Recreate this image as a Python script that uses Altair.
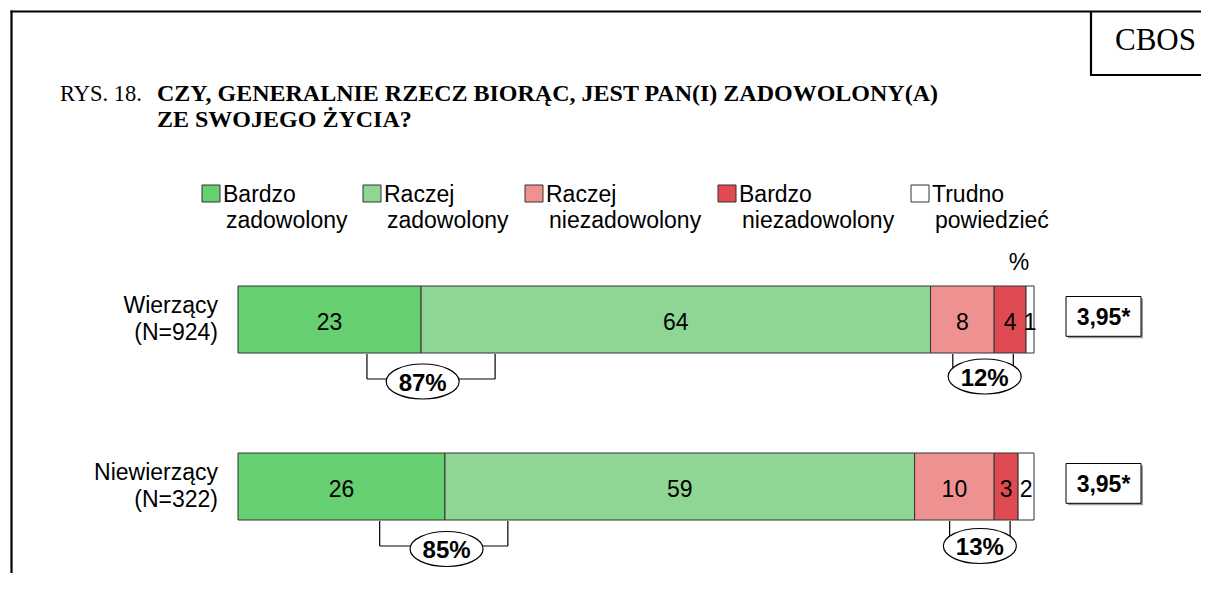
import altair as alt
import pandas as pd

# ---------------- data ----------------
groups = ["Wierzący", "Niewierzący"]
group_n = ["(N=924)", "(N=322)"]
categories = ["Bardzo zadowolony", "Raczej zadowolony", "Raczej niezadowolony",
              "Bardzo niezadowolony", "Trudno powiedzieć"]
legend_line1 = ["Bardzo", "Raczej", "Raczej", "Bardzo", "Trudno"]
legend_line2 = ["zadowolony", "zadowolony", "niezadowolony", "niezadowolony", "powiedzieć"]
values_wierzacy = [23, 64, 8, 4, 1]
values_niewierzacy = [26, 59, 10, 3, 2]
satisfied_totals = ["87%", "85%"]
dissatisfied_totals = ["12%", "13%"]
mean_scores = ["3,95*", "3,95*"]
colors = ["#66CF72", "#8FD594", "#EE9191", "#E04A52", "#FFFFFF"]

# ---------------- layout ----------------
W, H = 1193, 565
PX = 7.96          # pixels per percent
X0 = 230.0         # plot px of 0 %
ROW_PX = 167.0     # pixels between rows
ROW0 = 311.5       # plot px of first row centre
SANS = "Liberation Sans"
SERIF = "Liberation Serif"

def x_of(page_x):
    return (page_x - 8 - X0) / PX

def dy_of(px):
    return px / ROW_PX

def y_of(page_y):
    return (page_y - 8 - ROW0) / ROW_PX

xs = alt.Scale(domain=[-X0 / PX, (W - X0) / PX], nice=False, zero=False)
ys = alt.Scale(domain=[-ROW0 / ROW_PX, (H - ROW0) / ROW_PX], nice=False, zero=False, reverse=True)
X = lambda f: alt.X(f, type="quantitative", scale=xs, axis=None)
Y = lambda f: alt.Y(f, type="quantitative", scale=ys, axis=None)
color = alt.Color("cat:N", scale=alt.Scale(domain=categories, range=colors), legend=None)

# segments
seg_rows = []
for r, vals in enumerate([values_wierzacy, values_niewierzacy]):
    start = 0
    for c, v in zip(categories, vals):
        seg_rows.append(dict(row=r, cat=c, v=v, x=start, x2=start + v, mid=start + v / 2,
                             y=r - dy_of(33.5), y2=r + dy_of(33.5)))
        start += v
seg = pd.DataFrame(seg_rows)

bars = alt.Chart(seg).mark_rect(stroke="#333333", strokeWidth=1).encode(
    x=X("x"), x2="x2", y=Y("y"), y2="y2", color=color)
seg_text = alt.Chart(seg).mark_text(font=SANS, fontSize=23, baseline="alphabetic",
                                    align="center", dy=10.5, color="black").encode(
    x=X("mid"), y=Y("row"), text="v:N")

# row labels
lab = pd.DataFrame(dict(row=[0, 1], t=[g + "\n" + n for g, n in zip(groups, group_n)], x=[0, 0]))
row_labels = alt.Chart(lab).mark_text(font=SANS, fontSize=23, align="right", baseline="alphabetic",
                                      lineBreak="\n", lineHeight=27, dx=-20, dy=-6.5,
                                      color="black").encode(
    x=X("x"), y=Y("row"), text="t:N")

# brackets (annotation anchors, in % units)
br_left = [16.2, 17.8, 89.8, 89.4]
br_right = [32.3, 33.9, 97.4, 97.0]
br_center = [23.2, 26.2, 93.8, 93.2]
br_row = [0, 1, 0, 1]
br_off = [62, 62.5, 57, 59.5]
br_label = [satisfied_totals[0], satisfied_totals[1], dissatisfied_totals[0], dissatisfied_totals[1]]
rules = []
for l, rr, r in zip(br_left, br_right, br_row):
    top, bot = r + dy_of(34.5), r + dy_of(59.5)
    rules.append(dict(x=l, x2=l, y=top, y2=bot))
    rules.append(dict(x=rr, x2=rr, y=top, y2=bot))
    rules.append(dict(x=l, x2=rr, y=bot, y2=bot))
rules = pd.DataFrame(rules)
bracket_rules = alt.Chart(rules).mark_rule(color="black", strokeWidth=1.2).encode(
    x=X("x"), x2="x2", y=Y("y"), y2="y2")
ell = pd.DataFrame(dict(x=br_center, y=[r + dy_of(o) for r, o in zip(br_row, br_off)], t=br_label))
ELLIPSE = "M -1 0 A 1 0.48 0 1 0 1 0 A 1 0.48 0 1 0 -1 0 Z"
ellipses = alt.Chart(ell).mark_point(shape=ELLIPSE, size=73 * 73, filled=True, fill="white",
                                     stroke="black", strokeWidth=1.2, opacity=1).encode(
    x=X("x"), y=Y("y"))
ell_text = alt.Chart(ell).mark_text(font=SANS, fontSize=24, fontWeight="bold", align="center",
                                    baseline="alphabetic", dy=9, color="black").encode(
    x=X("x"), y=Y("y"), text="t:N")

# mean score boxes
box = pd.DataFrame(dict(row=[0, 1], t=mean_scores,
                        x=[x_of(1066)] * 2, x2=[x_of(1141)] * 2,
                        y=[r - dy_of(23) for r in (0, 1)], y2=[r + dy_of(16.8) for r in (0, 1)]))
box["xm"] = (box["x"] + box["x2"]) / 2
box["ym"] = (box["y"] + box["y2"]) / 2
box_shadow = alt.Chart(box).mark_rect(fill="#9a9a9a", xOffset=2, yOffset=2, x2Offset=2, y2Offset=2).encode(
    x=X("x"), x2="x2", y=Y("y"), y2="y2")
boxes = alt.Chart(box).mark_rect(fill="white", stroke="black", strokeWidth=1).encode(
    x=X("x"), x2="x2", y=Y("y"), y2="y2")
box_text = alt.Chart(box).mark_text(font=SANS, fontSize=23, fontWeight="bold", align="center",
                                    baseline="alphabetic", dy=8.5, color="black").encode(
    x=X("xm"), y=Y("ym"), text="t:N")

# legend
leg_left = [202, 363, 525, 718, 911]
leg = pd.DataFrame(dict(cat=categories, l1=legend_line1, l2=legend_line2,
                        x=[x_of(p) for p in leg_left], x2=[x_of(p + 18) for p in leg_left],
                        y=[y_of(185)] * 5, y2=[y_of(202)] * 5,
                        tx1=[x_of(p + 21) for p in leg_left], tx2=[x_of(p + 24) for p in leg_left],
                        ty1=[y_of(202)] * 5, ty2=[y_of(228)] * 5))
leg_sq = alt.Chart(leg).mark_rect(stroke="#333333", strokeWidth=1).encode(
    x=X("x"), x2="x2", y=Y("y"), y2="y2", color=color)
leg_t1 = alt.Chart(leg).mark_text(font=SANS, fontSize=23, align="left", baseline="alphabetic",
                                  color="black").encode(x=X("tx1"), y=Y("ty1"), text="l1:N")
leg_t2 = alt.Chart(leg).mark_text(font=SANS, fontSize=23, align="left", baseline="alphabetic",
                                  color="black").encode(x=X("tx2"), y=Y("ty2"), text="l2:N")

# decorations (pixel positions in plot coords)
one = pd.DataFrame({"d": [0]})
def rule(x, x2, y, y2, w=2.2):
    return alt.Chart(one).mark_rule(color="black", strokeWidth=w).encode(
        x=alt.value(x), x2=alt.value(x2), y=alt.value(y), y2=alt.value(y2))
def label(t, x, y, **kw):
    return alt.Chart(pd.DataFrame({"t": [t]})).mark_text(baseline="alphabetic", color="black", **kw).encode(
        x=alt.value(x), y=alt.value(y), text="t:N")

frame = [
    rule(2.5, W, 3.5, 3.5),
    rule(3.5, 3.5, 2.5, H),
    rule(1083, 1083, 3.5, 67.5),
    rule(1082, W, 67, 67),
]
titles = [
    label("RYS. 18.", 52, 93, font=SERIF, fontSize=22.5, align="left"),
    label("CZY, GENERALNIE RZECZ BIORĄC, JEST PAN(I) ZADOWOLONY(A)", 149, 93,
          font=SERIF, fontSize=24, fontWeight="bold", align="left"),
    label("ZE SWOJEGO ŻYCIA?", 149, 119, font=SERIF, fontSize=24, fontWeight="bold", align="left"),
    label("CBOS", 1147.5, 42, font=SERIF, fontSize=31, align="center"),
    label("%", 1011, 262, font=SANS, fontSize=23, align="center"),
]

chart = alt.layer(
    *frame, *titles,
    leg_sq, leg_t1, leg_t2,
    bracket_rules, ellipses, ell_text,
    bars, seg_text, row_labels,
    box_shadow, boxes, box_text,
).properties(
    width=W, height=H, padding=0, autosize=alt.AutoSizeParams(type="none"),
    background="white",
).configure_view(stroke=None)

chart.save("out.html", embed_options={"renderer": "svg", "actions": False})
